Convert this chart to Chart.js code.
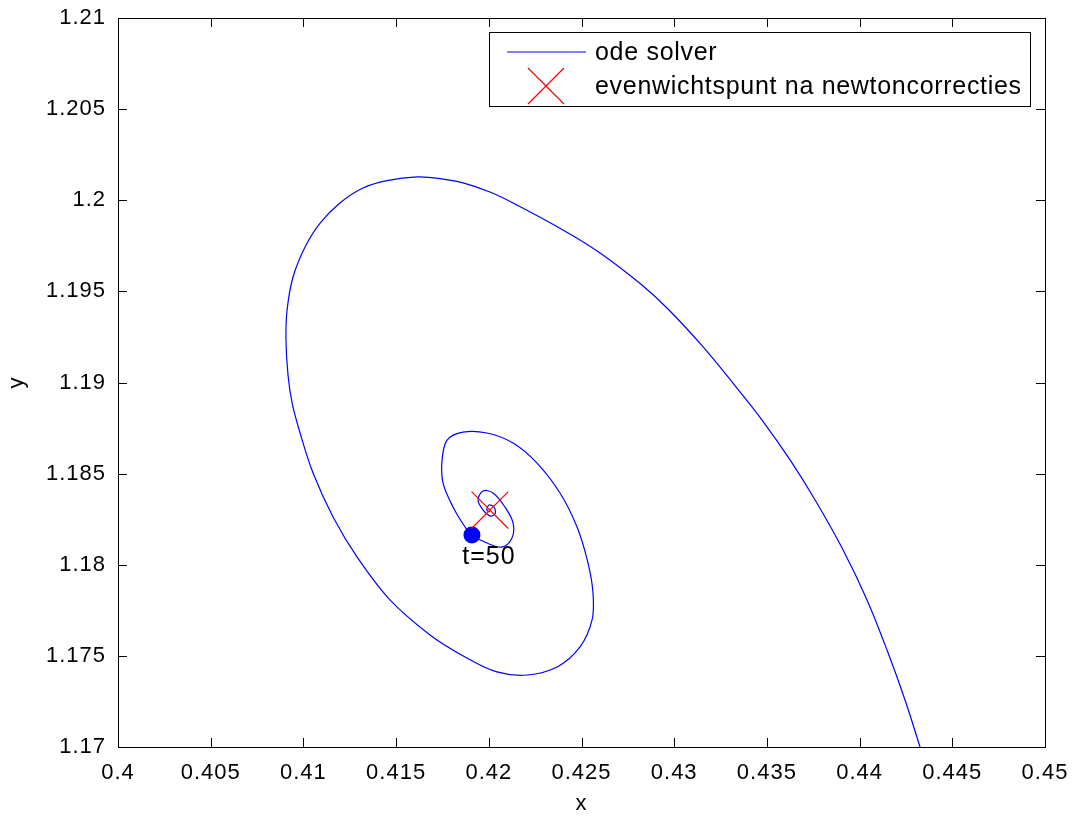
<!DOCTYPE html>
<html>
<head>
<meta charset="utf-8">
<script src="https://cdn.jsdelivr.net/npm/chart.js@4/dist/chart.umd.min.js"></script>
<style>
  body { margin: 0; background: #fff; }
  canvas { display: block; }
</style>
</head>
<body>
<canvas id="phase" width="1075" height="817"></canvas>
<script>
// trajectory, from where it leaves the bottom edge inwards
var odeX = [0.44364, 0.44326, 0.44245, 0.44148, 0.44040, 0.43911, 0.43760, 0.43625, 0.43474,
    0.43334, 0.43156, 0.42972, 0.42826, 0.42600, 0.42400, 0.42131, 0.42006, 0.41861, 0.41737,
    0.41613, 0.41451, 0.41321, 0.41197, 0.41090, 0.41009, 0.40944, 0.40912, 0.40906, 0.40917,
    0.40939, 0.40982, 0.41052, 0.41160, 0.41289, 0.41467, 0.41683, 0.41872, 0.42044, 0.42206,
    0.42368, 0.42492, 0.42557, 0.42562, 0.42535, 0.42476, 0.42384, 0.42260, 0.42131, 0.41990,
    0.41861, 0.41775, 0.41748, 0.41753, 0.41807, 0.41872, 0.41909, 0.41990, 0.42071, 0.42125,
    0.42131, 0.42087, 0.42023, 0.41969, 0.41942, 0.41969, 0.42006, 0.42033, 0.42028, 0.42001,
    0.41990, 0.42006];
var odeY = [1.16874, 1.17000, 1.17258, 1.17532, 1.17807, 1.18081, 1.18355, 1.18575, 1.18794,
    1.18975, 1.19195, 1.19398, 1.19535, 1.19711, 1.19837, 1.19985, 1.20045, 1.20095, 1.20119,
    1.20128, 1.20108, 1.20067, 1.19985, 1.19875, 1.19744, 1.19579, 1.19398, 1.19233, 1.19041,
    1.18888, 1.18723, 1.18503, 1.18262, 1.18043, 1.17807, 1.17615, 1.17494, 1.17412, 1.17395,
    1.17439, 1.17549, 1.17697, 1.17845, 1.18010, 1.18207, 1.18394, 1.18558, 1.18668, 1.18723,
    1.18728, 1.18684, 1.18575, 1.18449, 1.18317, 1.18207, 1.18163, 1.18119, 1.18097, 1.18147,
    1.18229, 1.18317, 1.18394, 1.18405, 1.18355, 1.18300, 1.18268, 1.18278, 1.18317, 1.18328,
    1.18300, 1.18289];

var eqX = [0.42006];
var eqY = [1.18300];

var markX = [0.41909];
var markY = [1.18163];
var markLabel = 't=50';

var xTicks = { min: 0.4, max: 0.45, step: 0.005 };
var yTicks = { min: 1.17, max: 1.21, step: 0.005 };

var FONT = 'Liberation Sans, Arial, Helvetica, sans-serif';

function pts(xs, ys) {
    var out = [];
    for (var i = 0; i < xs.length; i++) out.push({ x: xs[i], y: ys[i] });
    return out;
}

function fmt(v) {
    return String(+Number(v).toFixed(3));
}

var spacing = {
    id: 'spacing',
    beforeUpdate: function (chart) { chart.ctx.letterSpacing = '1px'; },
    beforeDraw: function (chart) { chart.ctx.letterSpacing = '1px'; }
};

// MATLAB style box with ticks pointing inwards on all four sides
var frame = {
    id: 'frame',
    afterDraw: function (chart) {
        var ctx = chart.ctx, a = chart.chartArea;
        var xs = chart.scales.x, ys = chart.scales.y;
        var len = 9;
        ctx.save();
        ctx.strokeStyle = '#000';
        ctx.lineWidth = 1;
        ctx.beginPath();
        xs.ticks.forEach(function (t) {
            var px = Math.round(xs.getPixelForValue(t.value)) + 0.5;
            ctx.moveTo(px, a.bottom); ctx.lineTo(px, a.bottom - len);
            ctx.moveTo(px, a.top); ctx.lineTo(px, a.top + len);
        });
        ys.ticks.forEach(function (t) {
            var py = Math.round(ys.getPixelForValue(t.value)) + 0.5;
            ctx.moveTo(a.left, py); ctx.lineTo(a.left + len, py);
            ctx.moveTo(a.right, py); ctx.lineTo(a.right - len, py);
        });
        ctx.stroke();
        ctx.strokeRect(Math.round(a.left) + 0.5, Math.round(a.top) + 0.5,
            Math.round(a.right - a.left), Math.round(a.bottom - a.top));
        ctx.restore();
    }
};

var markText = {
    id: 'markText',
    afterDatasetsDraw: function (chart) {
        var ctx = chart.ctx;
        var px = chart.scales.x.getPixelForValue(markX[0]);
        var py = chart.scales.y.getPixelForValue(markY[0]);
        ctx.save();
        ctx.font = '25px ' + FONT;
        ctx.fillStyle = '#000';
        ctx.textAlign = 'center';
        ctx.textBaseline = 'middle';
        ctx.fillText(markLabel, px + 17, py + 22);
        ctx.restore();
    }
};

var boxLegend = {
    id: 'boxLegend',
    afterDraw: function (chart) {
        var ctx = chart.ctx;
        var line = chart.data.datasets[0], eq = chart.data.datasets[1];
        var left = 489, top = 32, w = 541, h = 74;
        ctx.save();
        ctx.fillStyle = '#fff';
        ctx.fillRect(left, top, w, h);
        ctx.strokeStyle = '#000';
        ctx.lineWidth = 1;
        ctx.strokeRect(left + 0.5, top + 0.5, w, h);

        ctx.strokeStyle = line.borderColor;
        ctx.lineWidth = line.borderWidth;
        ctx.beginPath();
        ctx.moveTo(left + 18, top + 20);
        ctx.lineTo(left + 97, top + 20);
        ctx.stroke();

        ctx.strokeStyle = eq.borderColor;
        ctx.lineWidth = eq.borderWidth;
        var cx = left + 57, cy = top + 54, r = 18;
        ctx.beginPath();
        ctx.moveTo(cx - r, cy - r); ctx.lineTo(cx + r, cy + r);
        ctx.moveTo(cx - r, cy + r); ctx.lineTo(cx + r, cy - r);
        ctx.stroke();

        ctx.letterSpacing = '0.7px';
        ctx.font = '25px ' + FONT;
        ctx.fillStyle = '#000';
        ctx.textAlign = 'left';
        ctx.textBaseline = 'middle';
        ctx.fillText(line.label, left + 106, top + 21);
        ctx.fillText(eq.label, left + 106, top + 55);
        ctx.restore();
    }
};

new Chart(document.getElementById('phase'), {
    type: 'scatter',
    data: {
        datasets: [{
            label: 'ode solver',
            data: pts(odeX, odeY),
            showLine: true,
            borderColor: 'rgb(0,0,255)',
            borderWidth: 1.2,
            pointRadius: 0,
            tension: 0.35,
            order: 3
        }, {
            label: 'evenwichtspunt na newtoncorrecties',
            data: pts(eqX, eqY),
            pointStyle: 'crossRot',
            pointRadius: 26,
            borderColor: 'rgb(255,0,0)',
            borderWidth: 1.2,
            order: 1
        }, {
            label: markLabel,
            data: pts(markX, markY),
            pointStyle: 'circle',
            pointRadius: 8.5,
            backgroundColor: 'rgb(0,0,255)',
            borderColor: 'rgb(0,0,255)',
            borderWidth: 0,
            order: 2
        }]
    },
    options: {
        responsive: false,
        animation: false,
        devicePixelRatio: 1,
        layout: { autoPadding: false, padding: { top: 18, right: 30, left: 0, bottom: 0 } },
        plugins: { legend: { display: false }, tooltip: { enabled: false } },
        events: [],
        scales: {
            x: {
                type: 'linear',
                min: xTicks.min,
                max: xTicks.max,
                afterFit: function (s) { s.height = 70; s.paddingLeft = 0; s.paddingRight = 0; },
                ticks: {
                    stepSize: xTicks.step,
                    autoSkip: false,
                    maxRotation: 0,
                    padding: 13,
                    color: '#000',
                    font: { family: FONT, size: 22 },
                    callback: fmt
                },
                grid: { display: false, drawTicks: false },
                border: { display: false },
                title: { display: true, text: 'x', color: '#000', padding: 0, font: { family: FONT, size: 22 } }
            },
            y: {
                type: 'linear',
                min: yTicks.min,
                max: yTicks.max,
                afterFit: function (s) { s.width = 118; s.paddingTop = 0; s.paddingBottom = 0; },
                ticks: {
                    stepSize: yTicks.step,
                    autoSkip: false,
                    padding: 12,
                    color: '#000',
                    font: { family: FONT, size: 22 },
                    callback: fmt
                },
                grid: { display: false, drawTicks: false },
                border: { display: false },
                title: { display: true, text: 'y', color: '#000', padding: 4, font: { family: FONT, size: 22 } }
            }
        }
    },
    plugins: [spacing, markText, frame, boxLegend]
});
</script>
</body>
</html>
